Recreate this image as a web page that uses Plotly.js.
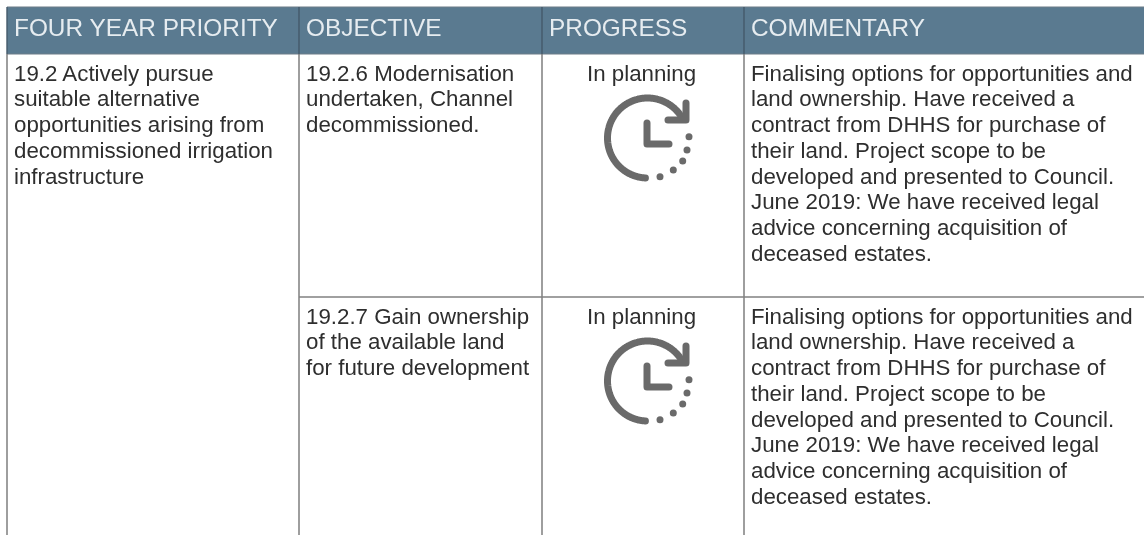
<!DOCTYPE html>
<html><head><meta charset="utf-8">
<script src="https://cdn.plot.ly/plotly-3.0.1.min.js"></script>
<style>html,body{margin:0;padding:0;background:#fff}#c{width:1144px;height:535px;filter:blur(0.45px)}
.scatterlayer .js-line{stroke-linecap:round;stroke-linejoin:round}</style>
</head><body><div id="c"></div>
<script>
var headers = ["FOUR YEAR PRIORITY","OBJECTIVE","PROGRESS","COMMENTARY"];
var headerX = [14,306,549,751];
var priority = ["19.2 Actively pursue","suitable alternative","opportunities arising from","decommissioned irrigation","infrastructure"];
var objectiveA = ["19.2.6 Modernisation","undertaken, Channel","decommissioned."];
var objectiveB = ["19.2.7 Gain ownership","of the available land","for future development"];
var progressLabel = "In planning";
var commentary = ["Finalising options for opportunities and","land ownership. Have received a","contract from DHHS for purchase of","their land. Project scope to be","developed and presented to Council.","June 2019: We have received legal","advice concerning acquisition of","deceased estates."];
var columnLines = [7,299,542,744];
var rowLine = 297;
var rowTops = [73,316];
var lineStep = 25.75;
var iconOffsets = [0,243];
var handsX = [647,647,669];
var handsY = [123,144,144];
var arrowX = [686,686,668];
var arrowY = [103,120,120];
var dotsX = [689,687,682.7,673.3,660];
var dotsY = [136.7,150,161,170,176.7];
var arcCentre = [647.5,138];
var arcRadius = 40;
var arcX = [], arcY = [];
for (var deg = 93; deg <= 330; deg += 1) {
  arcX.push(arcCentre[0] + arcRadius * Math.cos(deg * Math.PI / 180));
  arcY.push(arcCentre[1] + arcRadius * Math.sin(deg * Math.PI / 180));
}

var font = "Liberation Sans, Arial, sans-serif";
var annotations = [], shapes = [];
function text(x,y,t,size,color,anchor){
  annotations.push({xref:'x',yref:'y',x:x,y:y,text:t,showarrow:false,xanchor:anchor||'left',yanchor:'middle',
    font:{family:font,size:size,color:color},align:anchor||'left',borderpad:0,borderwidth:0});
}
function block(x,y,lines){lines.forEach(function(l,i){text(x,y+i*lineStep,l,22.3,'#2e2e2e');});}

shapes.push({type:'rect',xref:'x',yref:'y',x0:7,x1:1144,y0:7,y1:54,fillcolor:'#5a7a90',line:{width:0},layer:'below'});
shapes.push({type:'line',xref:'x',yref:'y',x0:7,x1:1144,y0:7,y1:7,line:{color:'#6d7d88',width:1.2}});
shapes.push({type:'line',xref:'x',yref:'y',x0:7,x1:1144,y0:54,y1:54,line:{color:'#6d7d88',width:1.2}});
columnLines.forEach(function(x){
  shapes.push({type:'line',xref:'x',yref:'y',x0:x,x1:x,y0:7,y1:54,line:{color:'#44596a',width:1.4}});
  shapes.push({type:'line',xref:'x',yref:'y',x0:x,x1:x,y0:54,y1:535,line:{color:'#757575',width:1.4}});
});
shapes.push({type:'line',xref:'x',yref:'y',x0:299,x1:1144,y0:rowLine,y1:rowLine,line:{color:'#808080',width:1.4}});

headers.forEach(function(h,i){text(headerX[i],27,h,24.4,'#e6ecf0');});
block(14,rowTops[0],priority);
block(306,rowTops[0],objectiveA);
block(306,rowTops[1],objectiveB);
block(751,rowTops[0],commentary);
block(751,rowTops[1],commentary);
rowTops.forEach(function(y){text(641,y,progressLabel,22.3,'#2e2e2e','center');});

var traces = [];
var gray = '#6a6a6a';
function shift(a,o){return a.map(function(v){return v+o;});}
iconOffsets.forEach(function(o){
  [[arcX,arcY],[arrowX,arrowY],[handsX,handsY]].forEach(function(p,i){
    traces.push({type:'scatter',mode:'lines',x:p[0],y:shift(p[1],o),line:{color:gray,width:7,simplify:false,shape:i===0?'spline':'linear'},hoverinfo:'skip',showlegend:false});
  });
  traces.push({type:'scatter',mode:'markers',x:dotsX,y:shift(dotsY,o),marker:{size:7,color:gray,line:{width:0}},hoverinfo:'skip',showlegend:false});
});

Plotly.newPlot('c',traces,{
  width:1144,height:535,margin:{l:0,r:0,t:0,b:0},paper_bgcolor:'#fff',plot_bgcolor:'#fff',showlegend:false,
  xaxis:{range:[0,1144],visible:false,fixedrange:true},
  yaxis:{range:[535,0],visible:false,fixedrange:true},
  shapes:shapes,annotations:annotations
},{displayModeBar:false,staticPlot:true});
</script></body></html>
